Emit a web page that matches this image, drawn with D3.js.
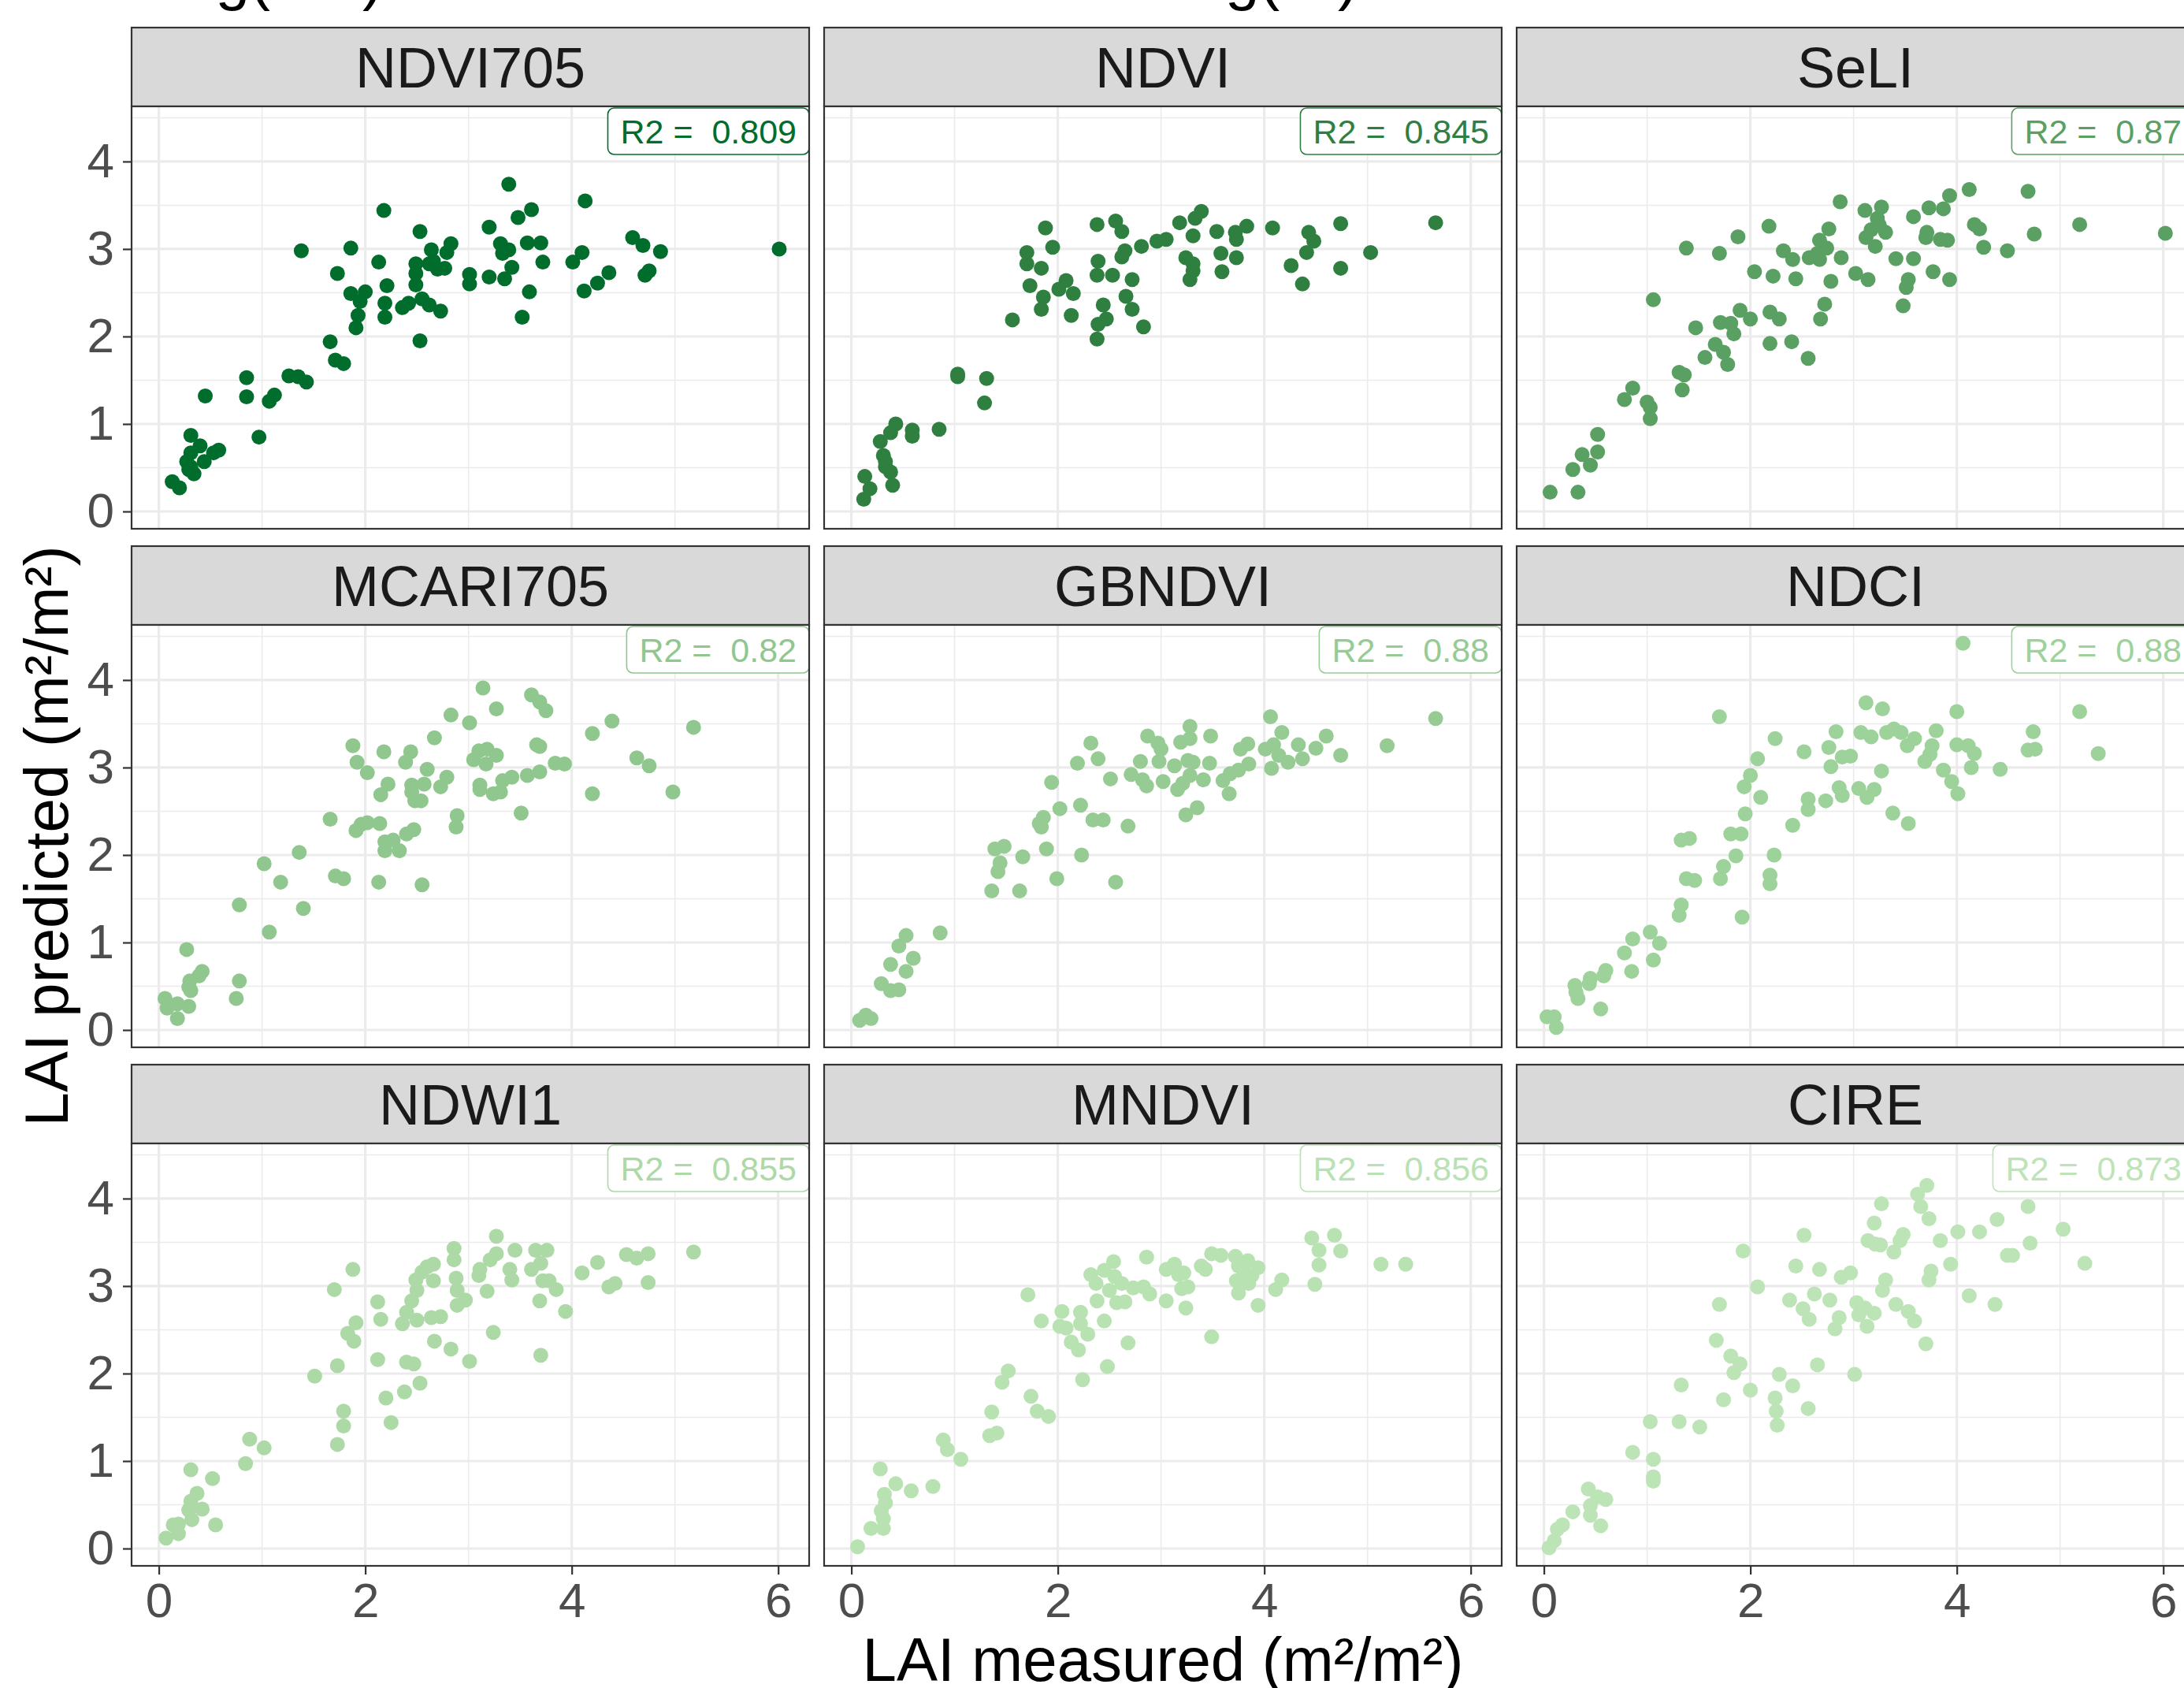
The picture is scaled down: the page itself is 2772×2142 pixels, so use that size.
<!DOCTYPE html>
<html>
<head>
<meta charset="utf-8">
<title>LAI predicted vs measured</title>
<script src="https://d3js.org/d3.v7.min.js"></script>
<style>
  body { margin: 0; background: #fff; }
  svg text { font-family: "Liberation Sans", Arial, Helvetica, sans-serif; }
</style>
</head>
<body>
<script>
// facet names, R2 labels, ticks
var indices = ["NDVI705", "NDVI", "SeLI", "MCARI705", "GBNDVI", "NDCI", "NDWI1", "MNDVI", "CIRE"];
var r2 = ["0.809", "0.845", "0.87", "0.82", "0.88", "0.88", "0.855", "0.856", "0.873"];
var xTicks = [0, 2, 4, 6];
var yTicks = [0, 1, 2, 3, 4];

// [LAI measured, LAI predicted]
var NDVI705 = [[3.39,3.74],[4.13,3.55],[2.18,3.44],[3.61,3.45],[3.48,3.36],[2.53,3.20],[3.20,3.25],[4.59,3.13],[4.69,3.04],[4.86,2.97],
  [6.01,3.00],[1.38,2.98],[1.86,3.01],[2.13,2.85],[1.73,2.72],[2.83,3.06],[2.79,2.96],[2.64,2.99],[2.49,2.83],[2.49,2.72],
  [2.62,2.83],[2.70,2.77],[2.77,2.78],[2.49,2.59],[2.21,2.58],[1.86,2.49],[2.00,2.51],[1.95,2.40],[2.19,2.38],[2.36,2.33],
  [2.42,2.38],[2.55,2.43],[2.62,2.36],[2.73,2.29],[1.93,2.24],[2.19,2.22],[1.91,2.10],[2.53,1.95],[3.01,2.71],[3.01,2.60],
  [3.20,2.68],[3.35,2.66],[3.42,2.79],[3.31,3.06],[3.39,2.99],[3.33,2.95],[3.57,3.07],[3.70,3.07],[3.72,2.85],[3.59,2.51],
  [3.52,2.22],[4.01,2.85],[4.10,2.96],[4.12,2.52],[4.25,2.61],[4.36,2.73],[4.71,2.70],[4.75,2.75],[1.66,1.94],[1.71,1.73],
  [1.79,1.69],[1.26,1.55],[1.35,1.54],[1.43,1.48],[0.85,1.53],[0.85,1.31],[1.07,1.26],[1.12,1.33],[0.45,1.32],[0.97,0.85],
  [0.31,0.87],[0.40,0.75],[0.31,0.67],[0.53,0.67],[0.58,0.70],[0.27,0.57],[0.44,0.57],[0.31,0.51],[0.34,0.43],[0.13,0.34],
  [0.20,0.27],[0.29,0.48],[2.66,2.86]];

var NDVI = [[5.66,3.30],[4.74,3.29],[5.03,2.96],[4.74,2.78],[4.43,3.19],[4.48,3.09],[4.41,2.96],[4.26,2.81],[4.37,2.60],[4.08,3.24],
  [3.83,3.26],[3.72,3.19],[3.73,3.11],[3.73,2.90],[3.58,2.95],[3.59,2.74],[3.54,3.20],[3.39,3.43],[3.33,3.35],[3.18,3.30],
  [3.31,3.15],[3.24,2.90],[3.31,2.83],[3.31,2.75],[3.28,2.65],[3.05,3.11],[2.96,3.09],[2.81,3.03],[2.62,2.91],[2.65,2.98],
  [2.56,3.32],[2.62,3.20],[2.38,3.28],[2.39,2.86],[2.38,2.70],[2.53,2.70],[2.72,2.65],[2.66,2.46],[2.72,2.31],[2.83,2.11],
  [2.44,2.36],[2.47,2.20],[2.39,2.14],[2.38,1.97],[1.88,3.24],[1.95,3.02],[1.70,2.96],[1.70,2.83],[1.84,2.78],[1.73,2.58],
  [1.86,2.45],[1.84,2.31],[2.01,2.54],[2.08,2.64],[2.15,2.49],[2.13,2.24],[1.56,2.19],[1.03,1.57],[1.03,1.54],[1.31,1.52],
  [1.29,1.24],[0.43,1.00],[0.38,0.90],[0.59,0.93],[0.59,0.86],[0.85,0.94],[0.28,0.80],[0.31,0.64],[0.33,0.57],[0.33,0.51],
  [0.38,0.45],[0.40,0.30],[0.13,0.40],[0.18,0.26],[0.12,0.14]];

var SeLI = [[4.12,3.68],[4.69,3.66],[3.93,3.61],[3.87,3.46],[3.73,3.47],[3.58,3.37],[2.87,3.54],[3.11,3.44],[3.27,3.48],[3.23,3.35],
  [3.25,3.27],[3.31,3.19],[3.17,3.22],[3.12,3.13],[3.21,3.03],[3.71,3.19],[3.70,3.13],[3.84,3.11],[3.91,3.10],[4.17,3.28],
  [4.22,3.23],[4.26,3.02],[4.49,2.98],[4.75,3.17],[5.19,3.28],[6.02,3.18],[2.76,3.23],[2.67,3.10],[2.74,3.01],[2.65,2.95],
  [2.57,2.90],[2.67,2.88],[2.88,2.90],[2.32,2.98],[2.41,2.88],[2.18,3.26],[1.88,3.14],[1.38,3.01],[1.70,2.95],[2.04,2.74],
  [2.22,2.69],[2.44,2.66],[2.78,2.63],[3.02,2.72],[3.14,2.65],[3.41,2.89],[3.58,2.89],[3.77,2.74],[3.93,2.65],[3.53,2.65],
  [3.51,2.56],[3.48,2.35],[2.72,2.37],[2.68,2.20],[2.19,2.28],[2.28,2.20],[2.00,2.20],[1.90,2.30],[1.71,2.16],[1.81,2.15],
  [1.84,2.03],[1.47,2.10],[2.19,1.92],[2.40,1.94],[2.56,1.75],[1.66,1.91],[1.74,1.82],[1.56,1.76],[1.78,1.68],[1.31,1.59],
  [1.36,1.56],[1.34,1.39],[1.06,2.42],[0.86,1.41],[0.78,1.28],[1.00,1.25],[1.03,1.19],[1.03,1.06],[0.52,0.88],[0.52,0.68],
  [0.37,0.65],[0.45,0.53],[0.28,0.48],[0.06,0.22],[0.33,0.22]];

var MCARI705 = [[3.14,3.91],[3.61,3.83],[3.69,3.75],[3.75,3.65],[3.27,3.67],[2.83,3.60],[3.01,3.51],[4.39,3.53],[4.20,3.39],[5.18,3.46],
  [2.67,3.34],[1.88,3.25],[2.18,3.18],[2.44,3.18],[2.39,3.06],[1.92,3.06],[2.60,2.98],[2.02,2.94],[3.10,3.19],[3.18,3.21],
  [3.27,3.14],[3.05,3.09],[3.17,3.04],[3.66,3.26],[3.69,3.24],[3.84,3.05],[3.93,3.04],[4.63,3.11],[4.75,3.02],[3.69,2.95],
  [3.57,2.91],[3.42,2.89],[3.33,2.85],[3.11,2.80],[3.11,2.75],[3.24,2.70],[3.31,2.72],[4.20,2.70],[4.98,2.72],[2.79,2.89],
  [2.73,2.78],[2.57,2.81],[2.45,2.80],[2.45,2.72],[2.48,2.62],[2.54,2.62],[2.22,2.81],[2.15,2.69],[3.51,2.48],[2.89,2.45],
  [2.88,2.32],[1.66,2.41],[1.91,2.28],[1.96,2.35],[2.02,2.37],[2.14,2.36],[2.47,2.29],[2.40,2.24],[2.27,2.17],[2.19,2.15],
  [2.19,2.05],[2.33,2.05],[1.36,2.03],[1.02,1.90],[1.18,1.69],[1.71,1.76],[1.79,1.73],[2.13,1.69],[2.55,1.66],[0.78,1.43],
  [1.40,1.39],[1.07,1.12],[0.27,0.92],[0.42,0.67],[0.39,0.62],[0.30,0.56],[0.29,0.49],[0.31,0.45],[0.78,0.56],[0.75,0.36],
  [0.06,0.36],[0.08,0.25],[0.18,0.30],[0.29,0.27],[0.18,0.13]];

var GBNDVI = [[5.66,3.56],[4.06,3.58],[4.17,3.40],[4.60,3.36],[4.33,3.26],[4.50,3.22],[4.74,3.14],[5.19,3.25],[4.37,3.10],[4.23,3.06],
  [4.07,2.99],[4.09,3.26],[4.01,3.21],[4.14,3.14],[3.84,3.27],[3.77,3.21],[3.85,3.04],[3.75,2.97],[3.67,2.93],[3.60,2.85],
  [3.66,2.70],[3.48,3.36],[3.47,3.05],[3.41,2.86],[3.28,3.47],[3.28,3.33],[3.19,3.29],[3.26,3.08],[3.31,3.06],[3.28,2.91],
  [3.21,2.82],[3.16,2.75],[3.35,2.54],[3.24,2.46],[2.87,3.36],[2.97,3.28],[3.00,3.21],[2.98,3.07],[3.13,3.02],[3.02,2.84],
  [2.80,3.07],[2.71,2.92],[2.82,2.86],[2.86,2.79],[2.32,3.28],[2.39,3.10],[2.19,3.05],[2.51,2.87],[1.94,2.83],[2.02,2.53],
  [2.22,2.57],[2.34,2.40],[2.44,2.40],[2.68,2.33],[1.86,2.43],[1.82,2.36],[1.84,2.32],[1.39,2.07],[1.48,2.10],[1.44,1.91],
  [1.42,1.81],[1.66,1.98],[1.89,2.07],[2.23,2.00],[1.99,1.73],[2.56,1.69],[1.36,1.59],[1.63,1.59],[0.53,1.08],[0.86,1.11],
  [0.46,0.96],[0.60,0.82],[0.38,0.75],[0.53,0.67],[0.29,0.53],[0.38,0.45],[0.46,0.46],[0.08,0.11],[0.14,0.17],[0.19,0.13]];

var NDCI = [[4.06,4.42],[3.12,3.74],[3.28,3.67],[4.00,3.64],[5.19,3.64],[1.70,3.58],[3.07,3.40],[3.32,3.40],[3.39,3.44],[3.46,3.40],
  [3.59,3.33],[3.80,3.42],[2.83,3.41],[3.17,3.35],[4.74,3.41],[2.24,3.33],[3.52,3.25],[3.76,3.25],[3.74,3.15],[4.00,3.26],
  [4.11,3.25],[4.17,3.16],[4.69,3.20],[4.76,3.21],[5.37,3.16],[2.52,3.18],[2.76,3.23],[2.78,3.01],[2.89,3.12],[2.97,3.13],
  [2.07,3.10],[3.69,3.07],[3.87,2.97],[4.14,3.00],[4.42,2.98],[3.27,2.96],[2.00,2.91],[1.94,2.78],[2.10,2.66],[2.86,2.77],
  [2.89,2.68],[3.05,2.76],[3.20,2.75],[3.13,2.66],[3.95,2.84],[4.01,2.70],[2.56,2.64],[2.56,2.52],[2.73,2.62],[1.95,2.47],
  [2.41,2.34],[3.38,2.48],[3.53,2.36],[1.81,2.24],[1.91,2.24],[1.33,2.17],[1.41,2.19],[1.86,1.99],[2.23,2.00],[1.74,1.87],
  [1.71,1.73],[1.38,1.73],[1.46,1.71],[2.19,1.77],[2.19,1.67],[1.33,1.43],[1.31,1.31],[1.92,1.29],[1.03,1.12],[1.12,0.99],
  [0.86,1.04],[0.78,0.88],[0.85,0.67],[1.06,0.80],[0.60,0.68],[0.58,0.62],[0.45,0.59],[0.44,0.53],[0.30,0.51],[0.31,0.43],
  [0.33,0.36],[0.55,0.24],[0.03,0.15],[0.10,0.15],[0.12,0.03]];

var NDWI1 = [[3.27,3.57],[2.86,3.43],[2.86,3.30],[3.45,3.41],[3.65,3.41],[3.76,3.41],[3.27,3.37],[3.21,3.30],[4.25,3.27],[4.53,3.36],
  [4.63,3.32],[4.74,3.37],[5.18,3.39],[3.70,3.26],[3.61,3.19],[3.40,3.19],[3.42,3.07],[3.11,3.19],[3.10,3.12],[4.10,3.15],
  [4.42,3.03],[4.36,2.99],[4.74,3.04],[3.72,3.06],[3.78,3.06],[3.85,2.96],[3.69,2.83],[3.94,2.71],[2.66,3.25],[2.60,3.22],
  [2.55,3.16],[2.66,3.06],[2.49,3.07],[2.50,2.95],[2.88,3.09],[2.89,2.95],[2.97,2.84],[2.89,2.78],[3.18,2.94],[1.88,3.19],
  [1.70,2.96],[2.12,2.82],[2.15,2.62],[2.45,2.83],[2.40,2.70],[2.36,2.57],[2.50,2.61],[2.64,2.64],[2.73,2.65],[1.91,2.58],
  [1.83,2.46],[1.89,2.37],[3.24,2.47],[2.67,2.37],[2.83,2.28],[3.01,2.14],[3.70,2.21],[2.12,2.16],[2.40,2.13],[2.47,2.11],
  [1.73,2.09],[1.51,1.97],[2.53,1.89],[2.38,1.79],[2.20,1.72],[1.79,1.57],[1.79,1.40],[2.25,1.44],[1.73,1.19],[0.88,1.25],
  [1.02,1.15],[0.84,0.97],[0.31,0.90],[0.52,0.80],[0.37,0.63],[0.31,0.54],[0.42,0.45],[0.29,0.44],[0.32,0.33],[0.55,0.27],
  [0.14,0.27],[0.19,0.28],[0.19,0.17],[0.07,0.12]];

var MNDVI = [[4.46,3.55],[4.68,3.58],[4.53,3.41],[4.74,3.40],[4.53,3.24],[4.49,3.02],[5.13,3.25],[5.37,3.25],[4.17,3.07],[4.11,2.96],
  [3.94,2.78],[3.49,3.37],[3.58,3.35],[3.72,3.34],[3.84,3.29],[3.75,3.23],[3.80,3.17],[3.94,3.21],[3.88,3.12],[3.73,3.06],
  [3.85,3.03],[3.75,2.92],[3.39,3.23],[3.43,3.19],[2.86,3.33],[2.54,3.28],[2.45,3.18],[2.32,3.13],[2.37,3.03],[2.55,3.11],
  [2.62,3.03],[2.50,2.95],[2.73,2.98],[2.83,2.99],[2.89,2.91],[3.05,3.19],[3.13,3.25],[3.22,3.15],[3.17,3.13],[3.26,2.99],
  [3.20,2.97],[3.05,2.83],[3.24,2.75],[2.57,2.81],[2.65,2.82],[2.38,2.83],[1.71,2.90],[2.04,2.71],[2.22,2.70],[2.22,2.57],
  [1.84,2.60],[2.02,2.54],[2.08,2.52],[2.29,2.45],[2.45,2.60],[2.13,2.36],[2.20,2.27],[2.68,2.35],[3.49,2.42],[2.48,2.08],
  [2.24,1.93],[1.52,2.03],[1.46,1.90],[1.74,1.74],[1.80,1.57],[1.91,1.51],[1.36,1.56],[1.34,1.29],[1.41,1.32],[0.89,1.24],
  [0.93,1.13],[1.06,1.02],[0.28,0.91],[0.43,0.74],[0.58,0.66],[0.79,0.71],[0.32,0.62],[0.33,0.52],[0.29,0.43],[0.31,0.34],
  [0.19,0.23],[0.31,0.23],[0.06,0.02]];

var CIRE = [[3.71,4.15],[3.62,4.05],[3.65,3.91],[3.73,3.77],[3.27,3.94],[4.69,3.91],[4.39,3.76],[5.03,3.65],[3.20,3.72],[4.01,3.62],
  [4.22,3.62],[3.48,3.59],[3.45,3.52],[3.84,3.52],[4.71,3.49],[3.14,3.52],[3.21,3.48],[3.26,3.47],[3.39,3.39],[2.52,3.58],
  [1.93,3.40],[4.49,3.35],[4.54,3.35],[5.24,3.26],[3.94,3.25],[3.75,3.17],[3.73,3.07],[2.44,3.23],[2.67,3.19],[2.88,3.10],
  [2.97,3.15],[3.31,3.07],[3.28,2.95],[2.07,2.99],[4.12,2.89],[4.37,2.79],[2.38,2.84],[2.62,2.91],[2.77,2.84],[3.03,2.81],
  [3.11,2.75],[3.05,2.67],[3.20,2.69],[3.13,2.54],[3.41,2.79],[3.53,2.71],[3.59,2.60],[2.51,2.74],[2.57,2.62],[2.86,2.64],
  [2.82,2.51],[1.70,2.79],[3.70,2.34],[1.67,2.38],[1.81,2.20],[1.90,2.11],[1.84,2.01],[2.65,2.10],[3.01,1.99],[2.28,1.99],
  [2.41,1.86],[2.00,1.81],[1.74,1.70],[1.33,1.87],[2.24,1.72],[2.25,1.57],[2.26,1.41],[2.56,1.60],[1.03,1.45],[1.31,1.45],
  [1.51,1.39],[0.86,1.10],[1.06,1.02],[1.06,0.82],[1.06,0.77],[0.43,0.68],[0.52,0.59],[0.60,0.56],[0.45,0.49],[0.45,0.38],
  [0.28,0.42],[0.55,0.26],[0.18,0.27],[0.13,0.22],[0.10,0.09],[0.05,0.01]];

var panelData = [NDVI705, NDVI, SeLI, MCARI705, GBNDVI, NDCI, NDWI1, MNDVI, CIRE];
var pointColors = ["#006d2c", "#2f8040", "#5aa062", "#8fc78e", "#96cc94", "#9dd29a", "#acd9a6", "#b9e2b2", "#bde4b6"];

var W = 2772, H = 2142;
var panelW = 860, panelH = 536, stripH = 100;
var left0 = 167, top0 = 35, colStep = 879, rowStep = 658;
var tickFont = 62, stripFont = 72, titleFont = 78, labelFont = 43;

var svg = d3.select("body").append("svg")
  .attr("width", W)
  .attr("height", H);

// shared scales (ggplot 5% expansion)
var x = d3.scaleLinear().domain([-0.264, 6.30]).range([0, panelW]);
var y = d3.scaleLinear().domain([-0.198, 4.63]).range([panelH, 0]);

var xMinor = [1, 3, 5];
var yMinor = [0.5, 1.5, 2.5, 3.5, 4.5];

// cut-off titles at the very top
svg.append("text").attr("x", 486).attr("y", -2).attr("text-anchor", "end")
  .attr("font-size", titleFont).text("log(LAI)");
svg.append("text").attr("x", 1724).attr("y", -2).attr("text-anchor", "end")
  .attr("font-size", titleFont).text("log(VI)");

indices.forEach(function (name, i) {
  var col = i % 3, row = Math.floor(i / 3);
  var g = svg.append("g")
    .attr("transform", "translate(" + (left0 + col * colStep) + "," + (top0 + row * rowStep + stripH) + ")");

  // strip
  g.append("rect")
    .attr("x", 0).attr("y", -stripH)
    .attr("width", panelW).attr("height", stripH)
    .attr("fill", "#d9d9d9").attr("stroke", "#333333").attr("stroke-width", 2.2);
  g.append("text")
    .attr("x", panelW / 2).attr("y", -stripH / 2)
    .attr("dy", "0.36em")
    .attr("text-anchor", "middle")
    .attr("font-size", stripFont)
    .attr("fill", "#1a1a1a")
    .text(name);

  g.append("rect").attr("width", panelW).attr("height", panelH).attr("fill", "#fff");

  // grid
  g.selectAll(".vminor").data(xMinor).enter().append("line")
    .attr("x1", function (d) { return x(d); }).attr("x2", function (d) { return x(d); })
    .attr("y1", 0).attr("y2", panelH)
    .attr("stroke", "#ebebeb").attr("stroke-width", 1.6);
  g.selectAll(".hminor").data(yMinor).enter().append("line")
    .attr("y1", function (d) { return y(d); }).attr("y2", function (d) { return y(d); })
    .attr("x1", 0).attr("x2", panelW)
    .attr("stroke", "#ebebeb").attr("stroke-width", 1.6);
  g.selectAll(".vmajor").data(xTicks).enter().append("line")
    .attr("x1", function (d) { return x(d); }).attr("x2", function (d) { return x(d); })
    .attr("y1", 0).attr("y2", panelH)
    .attr("stroke", "#ebebeb").attr("stroke-width", 3.2);
  g.selectAll(".hmajor").data(yTicks).enter().append("line")
    .attr("y1", function (d) { return y(d); }).attr("y2", function (d) { return y(d); })
    .attr("x1", 0).attr("x2", panelW)
    .attr("stroke", "#ebebeb").attr("stroke-width", 3.2);

  // points
  var clipId = "clip" + i;
  g.append("clipPath").attr("id", clipId)
    .append("rect").attr("width", panelW).attr("height", panelH);
  g.append("g").attr("clip-path", "url(#" + clipId + ")")
    .selectAll("circle")
    .data(panelData[i])
    .enter()
    .append("circle")
    .attr("cx", function (d) { return x(d[0]); })
    .attr("cy", function (d) { return y(d[1]); })
    .attr("r", 9.5)
    .attr("fill", pointColors[i]);

  // R2 label, top right
  var lab = g.append("g");
  var pad = 16;
  var t = lab.append("text")
    .attr("x", panelW - pad)
    .attr("y", 2 + 45)
    .attr("text-anchor", "end")
    .attr("font-size", labelFont)
    .attr("fill", pointColors[i])
    .attr("xml:space", "preserve")
    .text("R2 =  " + r2[i]);
  var tw = t.node().getComputedTextLength();
  lab.insert("rect", "text")
    .attr("x", panelW - tw - 2 * pad).attr("y", 2)
    .attr("width", tw + 2 * pad).attr("height", 59)
    .attr("rx", 8).attr("ry", 8)
    .attr("fill", "#fff")
    .attr("stroke", pointColors[i]).attr("stroke-width", 1.6);

  // border
  g.append("rect").attr("width", panelW).attr("height", panelH)
    .attr("fill", "none").attr("stroke", "#333333").attr("stroke-width", 2.2);

  // axes
  if (col === 0) {
    var ay = g.append("g").call(d3.axisLeft(y).tickValues(yTicks).tickFormat(d3.format("d")).tickSize(11).tickPadding(11));
    ay.select(".domain").remove();
    ay.selectAll("line").attr("stroke", "#333333").attr("stroke-width", 2.2);
    ay.selectAll("text").attr("font-size", tickFont).attr("fill", "#4d4d4d")
      .attr("font-family", "Liberation Sans, Arial, sans-serif");
  }
  if (row === 2) {
    var ax = g.append("g").attr("transform", "translate(0," + panelH + ")")
      .call(d3.axisBottom(x).tickValues(xTicks).tickFormat(d3.format("d")).tickSize(11).tickPadding(10));
    ax.select(".domain").remove();
    ax.selectAll("line").attr("stroke", "#333333").attr("stroke-width", 2.2);
    ax.selectAll("text").attr("font-size", tickFont).attr("fill", "#4d4d4d")
      .attr("font-family", "Liberation Sans, Arial, sans-serif");
  }
});

// axis titles
svg.append("text")
  .attr("transform", "translate(86,1061) rotate(-90)")
  .attr("text-anchor", "middle")
  .attr("font-size", titleFont)
  .attr("fill", "#000")
  .text("LAI predicted (m²/m²)");

svg.append("text")
  .attr("x", left0 + (2 * colStep + panelW) / 2)
  .attr("y", 2133)
  .attr("text-anchor", "middle")
  .attr("font-size", titleFont)
  .attr("fill", "#000")
  .text("LAI measured (m²/m²)");
</script>
</body>
</html>
